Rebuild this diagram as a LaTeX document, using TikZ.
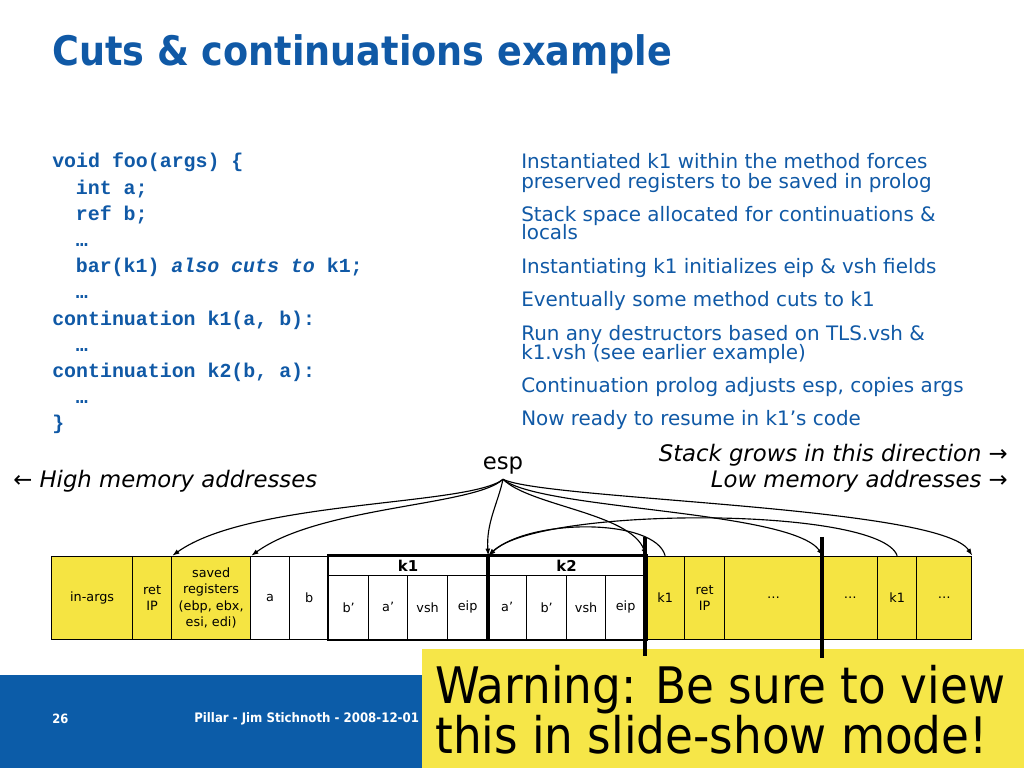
\documentclass[tikz,border=0pt]{standalone}
\usepackage{fontspec}
\setmainfont{DejaVu Sans}
\setmonofont{Liberation Mono}
\newfontfamily\condfont{DejaVu Sans Condensed}
\usetikzlibrary{arrows.meta}

\newcommand{\pxlen}{0.703125pt}
\definecolor{slideblue}{RGB}{16,89,166}
\definecolor{bandblue}{RGB}{12,92,168}
\definecolor{stackyellow}{RGB}{245,228,66}
\definecolor{warnyellow}{RGB}{246,230,72}

\tikzset{
  txt/.style={inner sep=0pt, anchor=base west, text=slideblue},
  code/.style={txt, font=\ttfamily\bfseries\fontsize{14}{16}\selectfont},
  note/.style={txt, font=\fontsize{14}{16}\selectfont},
  cell/.style={draw, line width=0.9pt, inner sep=0pt, anchor=south west, align=center,
    minimum width=#1*\pxlen, minimum height=83*\pxlen, font=\fontsize{9}{11.5}\selectfont},
  ycell/.style={cell=#1, fill=stackyellow},
  wcell/.style={cell=#1, fill=white},
  subcell/.style={cell=#1, fill=white, minimum height=64*\pxlen},
  hdr/.style={cell=#1, fill=white, minimum height=19*\pxlen, font=\bfseries\fontsize{10.5}{12}\selectfont},
  ptr/.style={-{Latex[length=5pt,width=3.5pt]}, line width=0.8pt},
  bar/.style={line width=2.2pt},
}

\begin{document}
\begin{tikzpicture}[x=\pxlen, y=\pxlen]
  \useasboundingbox (0,0) rectangle (1024,768);

  % title
  \node[txt, font=\condfont\bfseries\fontsize{28.6}{30}\selectfont] (title) at (52,702) {Cuts \& continuations example};

  % code
  \node[code] (c1) at (52,600) {void foo(args) \{};
  \node[code] (c2) at (75.6,573.8) {int a;};
  \node[code] (c3) at (75.6,547.6) {ref b;};
  \node[code] (c4) at (75.6,521.4) {…};
  \node[code] (c5) at (75.6,495.2) {bar(k1) \textit{also cuts to} k1;};
  \node[code] (c6) at (75.6,469) {…};
  \node[code] (c7) at (52,442.8) {continuation k1(a, b):};
  \node[code] (c8) at (75.6,416.6) {…};
  \node[code] (c9) at (52,390.4) {continuation k2(b, a):};
  \node[code] (c10) at (75.6,364.2) {…};
  \node[code] (c11) at (52,338) {\}};

  % notes
  \node[note] (n1) at (521,599) {Instantiated k1 within the method forces};
  \node[note] (n1b) at (521,579) {preserved registers to be saved in prolog};
  \node[note] (n2) at (521,546.3) {Stack space allocated for continuations \&};
  \node[note] (n2b) at (521,528) {locals};
  \node[note] (n3) at (521,494) {Instantiating k1 initializes eip \& vsh fields};
  \node[note] (n4) at (521,461.3) {Eventually some method cuts to k1};
  \node[note] (n5) at (521,427) {Run any destructors based on TLS.vsh \&};
  \node[note] (n5b) at (521,408) {k1.vsh (see earlier example)};
  \node[note] (n6) at (521,375) {Continuation prolog adjusts esp, copies args};
  \node[note] (n7) at (521,342) {Now ready to resume in k1’s code};

  % direction labels
  \node[inner sep=3pt, anchor=base, font=\fontsize{16}{18}\selectfont] (esp) at (503,298) {esp};
  \node[inner sep=0pt, anchor=base west, font=\itshape\fontsize{16}{18}\selectfont] (high) at (13,280) {{\upshape ←} High memory addresses};
  \node[inner sep=0pt, anchor=base east, font=\itshape\fontsize{16}{18}\selectfont] (grows) at (1008,306) {Stack grows in this direction {\upshape →}};
  \node[inner sep=0pt, anchor=base east, font=\itshape\fontsize{16}{18}\selectfont] (low) at (1008,280) {Low memory addresses {\upshape →}};

  % stack frame
  \node[ycell=81] (inargs) at (51,128) {in-args};
  \node[ycell=39] (retip) at (132,128) {ret\\IP};
  \node[ycell=79] (saved) at (171,128) {saved\\registers\\(ebp, ebx,\\esi, edi)};
  \node[wcell=39] (loca) at (250,128) {a};
  \node[wcell=39] (locb) at (289,128) {b};
  \node[hdr=159] (k1hdr) at (328,192) {k1};
  \node[subcell=40] (k1b) at (328,128) {b’};
  \node[subcell=39] (k1a) at (368,128) {a’};
  \node[subcell=40] (k1vsh) at (407,128) {vsh};
  \node[subcell=40] (k1eip) at (447,128) {eip};
  \node[hdr=158] (k2hdr) at (487,192) {k2};
  \node[subcell=39] (k2a) at (487,128) {a’};
  \node[subcell=40] (k2b) at (526,128) {b’};
  \node[subcell=39] (k2vsh) at (566,128) {vsh};
  \node[subcell=40] (k2eip) at (605,128) {eip};
  \node[ycell=39] (kone) at (645,128) {k1};
  \node[ycell=40] (retipb) at (684,128) {ret\\IP};
  \node[ycell=98] (dotsa) at (724,128) {…};
  \node[ycell=55] (dotsb) at (822,128) {…};
  \node[ycell=39] (ktwo) at (877,128) {k1};
  \node[ycell=55] (dotsc) at (916,128) {…};
  \draw[line width=2.1pt] (k1hdr.north west) rectangle (k1eip.south east);
  \draw[line width=2.1pt] (k2hdr.north west) rectangle (k2eip.south east);

  % pointers
  \draw[ptr] (esp.south) .. controls (470,262) and (250,268) .. (retip.north east);
  \draw[ptr] (esp.south) .. controls (475,262) and (320,262) .. (saved.north east);
  \draw[ptr] (esp.south) .. controls (498,265) and (486,245) .. (k1hdr.north east);
  \draw[ptr] (esp.south) .. controls (530,262) and (630,255) .. (k2hdr.north east);
  \draw[ptr] (esp.south) .. controls (540,258) and (790,258) .. (dotsa.north east);
  \draw[ptr] (esp.south) .. controls (545,268) and (940,262) .. (dotsc.north east);
  \draw[ptr] (kone.north) .. controls (655,250) and (530,250) .. (k1hdr.north east);
  \draw[ptr] (ktwo.north) .. controls (880,262) and (540,262) .. (k1hdr.north east);

  % footer
  \fill[bandblue] (0,0) rectangle (422,93);
  \node[inner sep=0pt, anchor=west, text=white, font=\condfont\bfseries\fontsize{9}{10}\selectfont] (page) at (52,49) {26};
  \node[inner sep=0pt, anchor=west, text=white, font=\condfont\bfseries\fontsize{9.2}{10}\selectfont] (foot) at (194,49) {Pillar - Jim Stichnoth - 2008-12-01};

  % warning
  \fill[warnyellow] (422,0) rectangle (1024,119);
  \draw[bar] (645,231) -- (645,112);
  \draw[bar] (822,231) -- (822,110);
  \node[inner sep=0pt, anchor=base west, font=\condfont\fontsize{35.4}{37}\selectfont] (warn1) at (435,64) {Warning: Be sure to view};
  \node[inner sep=0pt, anchor=base west, font=\condfont\fontsize{35.4}{37}\selectfont] (warn2) at (435,14) {this in slide-show mode!};
\end{tikzpicture}
\end{document}
